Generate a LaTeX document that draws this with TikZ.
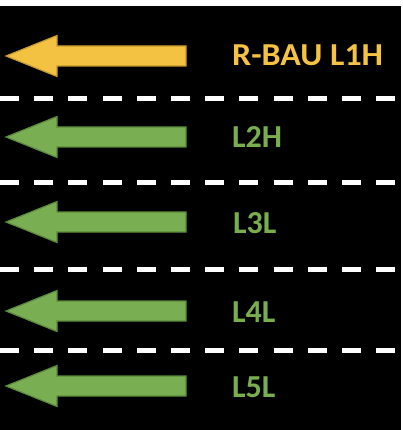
\documentclass[tikz,border=0pt]{standalone}
\usepackage{fontspec}
\setmainfont{Carlito}
\definecolor{ayel}{HTML}{F4C242}
\definecolor{ayelb}{HTML}{C49A2E}
\definecolor{agrn}{HTML}{7AAE52}
\definecolor{agrnb}{HTML}{5A8A3A}
\definecolor{tyel}{HTML}{F5C243}
\definecolor{tgrn}{HTML}{78AE4E}
\begin{document}
\begin{tikzpicture}[x=1pt,y=-1pt,
  lanelbl/.style={anchor=west,inner sep=0pt,font=\bfseries\fontsize{32}{32}\selectfont},
  lanesep/.style={draw=white,line width=5pt,dash pattern=on 19pt off 15.2pt},
  yelarrow/.style={fill=ayel,draw=ayelb,line width=1.2pt,line join=miter},
  grnarrow/.style={fill=agrn,draw=agrnb,line width=1.2pt,line join=miter}]
\useasboundingbox (0,0) rectangle (402,430);
\fill[white] (0,0) rectangle (402,430);
\fill[black] (0,6) rectangle (401,430);
% arrows
\foreach \yy/\st in {56/yelarrow,137/grnarrow,222/grnarrow,311/grnarrow,386/grnarrow}{
  \draw[\st] (6,\yy) -- (57,\yy-20.5) -- (57,\yy-10) -- (186,\yy-10) -- (186,\yy+10) -- (57,\yy+10) -- (57,\yy+20.5) -- cycle;
}
% separators
\foreach \yy in {99,183,269,350}{
  \draw[lanesep] (0,\yy) -- (402,\yy);
}
% labels
\node[lanelbl,text=tyel,xscale=1.06] (l1) at (232,55.5) {R-BAU L1H};
\node[lanelbl,text=tgrn] (l2) at (232,137.5) {L2H};
\node[lanelbl,text=tgrn] (l3) at (233,223) {L3L};
\node[lanelbl,text=tgrn] (l4) at (232,312) {L4L};
\node[lanelbl,text=tgrn] (l5) at (232,387.5) {L5L};
\end{tikzpicture}
\end{document}
